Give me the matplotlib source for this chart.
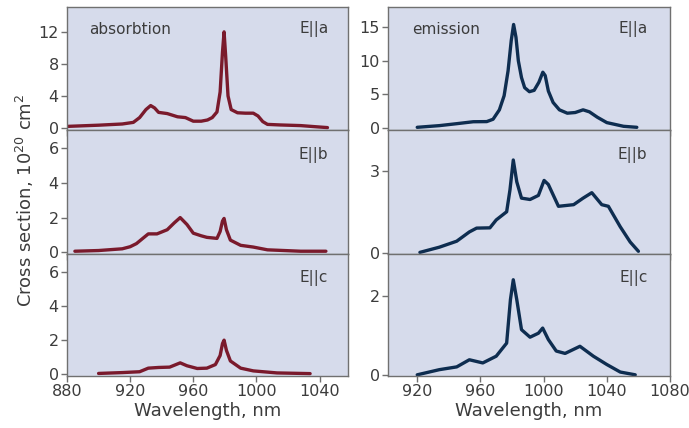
import matplotlib.pyplot as plt

# absorption spectra (nm, 1e-20 cm^2)
abs_a_nm = [880, 900, 915, 922, 926, 930, 933, 935.5, 938, 943.5, 950, 955, 960, 965, 969,
            972, 975, 977, 978.5, 979.5, 980.5, 982, 984, 988, 993, 998, 1001, 1004,
            1007, 1015, 1028, 1038, 1045]
abs_a_val = [0.2, 0.35, 0.5, 0.7, 1.3, 2.3, 2.8, 2.5, 1.95, 1.8, 1.4, 1.3, 0.85, 0.85, 1.0,
             1.3, 2.0, 4.5, 9.5, 12.0, 9.0, 4.0, 2.3, 1.9, 1.85, 1.85, 1.5, 0.8,
             0.45, 0.38, 0.3, 0.15, 0.05]

abs_b_nm = [885, 900, 915, 920, 924, 928, 931.5, 937, 943.5, 948, 951.7, 956, 960, 965,
            968.6, 975, 977, 978.5, 979.5, 981, 983.5, 990, 998, 1007, 1028, 1044]
abs_b_val = [0.06, 0.1, 0.2, 0.32, 0.5, 0.8, 1.06, 1.06, 1.3, 1.7, 2.0, 1.6, 1.1, 0.95,
             0.86, 0.8, 1.2, 1.8, 1.95, 1.3, 0.7, 0.4, 0.3, 0.14, 0.06, 0.06]

abs_c_nm = [900, 915, 926, 931.5, 938, 945, 948.5, 951.7, 956, 962.5, 968.6, 974, 977,
            978.5, 979.5, 981, 983.5, 990, 998, 1013, 1034]
abs_c_val = [0.05, 0.1, 0.15, 0.36, 0.4, 0.42, 0.55, 0.67, 0.5, 0.34, 0.36, 0.57, 1.1,
             1.8, 2.0, 1.4, 0.78, 0.36, 0.2, 0.08, 0.04]

# emission spectra
em_a_nm = [920, 934, 945, 955.5, 964, 968, 972, 975, 977.5, 979.5, 981, 982.5, 984, 986,
           988, 991, 994, 997, 999.5, 1001, 1003, 1006, 1010, 1015, 1020, 1025, 1029,
           1034, 1040, 1050.6, 1059]
em_a_val = [0.1, 0.35, 0.64, 0.93, 0.95, 1.3, 2.7, 4.8, 8.5, 13.0, 15.4, 13.5, 10.0, 7.5,
            6.0, 5.4, 5.6, 6.8, 8.3, 7.8, 5.5, 3.8, 2.7, 2.2, 2.3, 2.7, 2.4,
            1.6, 0.8, 0.25, 0.1]

em_b_nm = [921.7, 934, 945, 953, 957.6, 966, 970, 976.6, 978.7, 980.8, 983, 986, 991.4,
           996.7, 1000.3, 1003, 1009.4, 1019, 1025, 1030.5, 1036.8, 1041, 1048.5, 1054.8, 1060]
em_b_val = [0.01, 0.2, 0.42, 0.76, 0.9, 0.91, 1.2, 1.5, 2.3, 3.4, 2.6, 2.0, 1.95,
            2.1, 2.65, 2.5, 1.7, 1.76, 2.0, 2.2, 1.76, 1.7, 0.95, 0.39, 0.05]

em_c_nm = [920, 934, 945, 953, 961.5, 970, 976.6, 979, 980.8, 983, 986, 991.4, 996.7,
           999.4, 1003, 1008, 1013.6, 1023, 1031.5, 1040, 1048.5, 1058]
em_c_val = [0.0, 0.13, 0.2, 0.38, 0.3, 0.47, 0.8, 1.9, 2.4, 1.9, 1.14, 0.95, 1.05,
            1.18, 0.89, 0.6, 0.54, 0.72, 0.47, 0.26, 0.07, 0.0]

labels = ['E||a', 'E||b', 'E||c']
abs_data = [(abs_a_nm, abs_a_val), (abs_b_nm, abs_b_val), (abs_c_nm, abs_c_val)]
em_data = [(em_a_nm, em_a_val), (em_b_nm, em_b_val), (em_c_nm, em_c_val)]

abs_ylims = [(-0.25, 15.1), (-0.1, 7.05), (-0.1, 7.05)]
abs_yticks = [[0, 4, 8, 12], [0, 2, 4, 6], [0, 2, 4, 6]]
em_ylims = [(-0.3, 18.0), (-0.05, 4.5), (-0.03, 3.05)]
em_yticks = [[0, 5, 10, 15], [0, 3], [0, 2]]

bg = '#d6dbeb'
spine_c = '#707070'
text_c = '#3c3c3c'
red = '#7a1a2c'
navy = '#0e2d50'

plt.rcParams['font.family'] = ['DejaVu Sans']
fig = plt.figure(figsize=(6.89, 4.28), dpi=100)

W, H = 689, 428
tops = [7, 130, 254]
bots = [130, 254, 376]


def make_ax(x0, x1, i):
    return fig.add_axes([x0 / W, 1 - bots[i] / H, (x1 - x0) / W, (bots[i] - tops[i]) / H])


def style(ax, xlim, xticks, ylim, yticks, bottom):
    ax.set_facecolor(bg)
    ax.set_xlim(*xlim)
    ax.set_ylim(*ylim)
    ax.set_xticks(xticks)
    ax.set_yticks(yticks)
    for s in ax.spines.values():
        s.set_color(spine_c)
        s.set_linewidth(1.0)
    ax.tick_params(direction='out', length=4, width=1, color=spine_c,
                   labelcolor=text_c, labelsize=11.5, pad=2)
    if not bottom:
        ax.tick_params(axis='x', labelbottom=False)


for i in range(3):
    ax = make_ax(67, 348, i)
    x, y = abs_data[i]
    ax.plot(x, y, color=red, lw=2.4, solid_joinstyle='round', solid_capstyle='round')
    style(ax, (880, 1058), [880, 920, 960, 1000, 1040], abs_ylims[i], abs_yticks[i], i == 2)
    ax.text(0.93, 0.82 if i == 0 else 0.8, labels[i], transform=ax.transAxes,
            ha='right', va='center', fontsize=11, color=text_c)
    if i == 0:
        ax.text(0.08, 0.82, 'absorbtion', transform=ax.transAxes,
                ha='left', va='center', fontsize=11, color=text_c)
    if i == 2:
        ax.set_xlabel('Wavelength, nm', fontsize=13, color=text_c, labelpad=2)

    ax = make_ax(388, 670, i)
    x, y = em_data[i]
    ax.plot(x, y, color=navy, lw=2.4, solid_joinstyle='round', solid_capstyle='round')
    style(ax, (901.5, 1080), [920, 960, 1000, 1040, 1080], em_ylims[i], em_yticks[i], i == 2)
    ax.text(0.92, 0.82 if i == 0 else 0.8, labels[i], transform=ax.transAxes,
            ha='right', va='center', fontsize=11, color=text_c)
    if i == 0:
        ax.text(0.085, 0.82, 'emission', transform=ax.transAxes,
                ha='left', va='center', fontsize=11, color=text_c)
    if i == 2:
        ax.set_xlabel('Wavelength, nm', fontsize=13, color=text_c, labelpad=2)

fig.text(25 / W, 1 - 200 / H, 'Cross section, 10$^{20}$ cm$^{2}$', rotation=90,
         ha='center', va='center', fontsize=13, color=text_c)

fig.savefig('out.png', dpi=100, facecolor='white')
